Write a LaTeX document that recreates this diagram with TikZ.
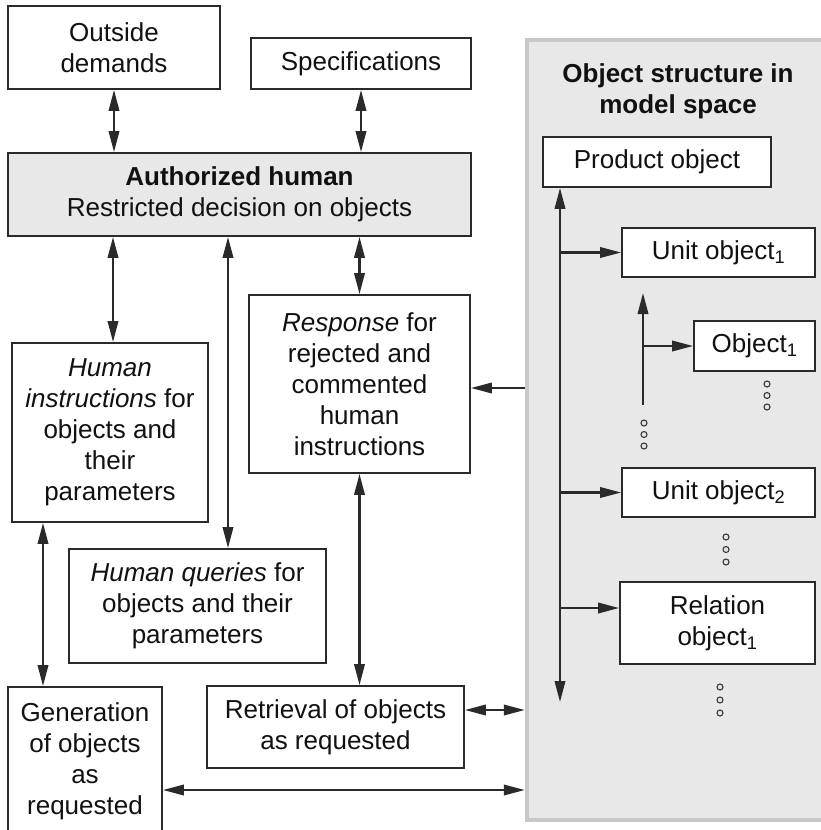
\documentclass[tikz,border=0pt]{standalone}
\usepackage{fontspec}
\setmainfont{Liberation Sans}
\usetikzlibrary{arrows.meta}
\definecolor{linec}{HTML}{2A2A2A}
\definecolor{panelfill}{HTML}{E8E8E8}
\definecolor{panelrim}{HTML}{C8C8C8}
\definecolor{txt}{HTML}{111111}
\begin{document}
\begin{tikzpicture}[x=1pt,y=-1pt,
  every node/.style={text=txt},
  txtfont/.style={font=\fontsize{26}{31}\selectfont},
  box/.style={draw=linec, line width=1.9pt, fill=white, align=center,
    inner sep=0pt, txtfont},
  graybox/.style={box, fill=panelfill},
  panelbox/.style={draw=panelrim, line width=4.5pt, fill=panelfill,
    inner sep=0pt},
  tip/.tip={Triangle[length=21pt,width=10.5pt]},
  arr/.style={draw=linec, line width=2.1pt, -tip},
  darr/.style={draw=linec, line width=2.1pt, tip-tip},
  dot/.style={circle, draw=gray!45!black, fill=gray!20, line width=1.1pt,
    inner sep=0pt, minimum size=6pt}
]
\useasboundingbox (0,0) rectangle (821,830);
\clip (0,0) rectangle (821,830);

% model space panel
\node[panelbox, minimum width=323pt, minimum height=780pt] (pnl) at (688.5,430) {};
\node[align=center, font=\bfseries\fontsize{26}{31}\selectfont] (title) at (678,91)
  {Object structure in\\model space};

% left-hand boxes
\node[box, minimum width=212pt, minimum height=83pt] (out) at (114,47.5) {Outside\\demands};
\node[box, minimum width=220pt, minimum height=51pt] (spec) at (361,63.5) {Specifications};
\node[graybox, minimum width=463pt, minimum height=83pt] (auth) at (239.5,194.5)
  {\textbf{Authorized human}\\Restricted decision on objects};
\node[box, minimum width=196pt, minimum height=179pt] (instr) at (110,432.5)
  {\textit{Human}\\\textit{instructions} for\\objects and\\their\\parameters};
\node[box, minimum width=221pt, minimum height=178pt] (resp) at (359.5,384)
  {\textit{Response} for\\rejected and\\commented\\human\\instructions};
\node[box, minimum width=257pt, minimum height=114pt] (query) at (197.5,606)
  {\textit{Human queries} for\\objects and their\\parameters};
\node[box, minimum width=154pt, minimum height=149pt] (gen) at (85,761.5)
  {Generation\\of objects\\as\\requested};
\node[box, minimum width=257pt, minimum height=82pt] (ret) at (335.5,727)
  {Retrieval of objects\\as requested};

% object boxes
\node[box, minimum width=228pt, minimum height=50pt] (prod) at (657,162) {Product object};
\node[box, minimum width=193pt, minimum height=49pt] (u1) at (718.5,252.5) {Unit object\textsubscript{1}};
\node[box, minimum width=121pt, minimum height=50pt] (o1) at (754.5,346) {Object\textsubscript{1}};
\node[box, minimum width=193pt, minimum height=49pt] (u2) at (718.5,492.5) {Unit object\textsubscript{2}};
\node[box, minimum width=195pt, minimum height=82pt] (rel) at (717.5,623) {Relation\\object\textsubscript{1}};

% helper coordinates
\coordinate (xi) at (113,0);
\coordinate (xq) at (228,0);
\coordinate (xg) at (43,0);
\coordinate (yr) at (0,388);
\coordinate (yt) at (0,710);
\coordinate (yb) at (0,790);
\coordinate (yrel) at (0,608);
\coordinate (bus) at (560,702);
\coordinate (sub) at (643,405);
\coordinate (subtop) at (643,293);

% connectors on the left
\draw[darr] (out.south) -- (out.south |- auth.north);
\draw[darr] (spec.south) -- (spec.south |- auth.north);
\draw[darr] (auth.south -| xi) -- (instr.north -| xi);
\draw[darr] (auth.south -| xq) -- (query.north -| xq);
\draw[darr] (auth.south -| resp.north) -- (resp.north);
\draw[darr] (instr.south -| xg) -- (gen.north -| xg);
\draw[darr] (resp.south) -- (resp.south |- ret.north);

% connectors to and from the model space
\draw[arr] (pnl.west |- yr) -- (resp.east |- yr);
\draw[darr] (ret.east |- yt) -- (pnl.west |- yt);
\draw[darr] (gen.east |- yb) -- (pnl.west |- yb);

% object tree
\draw[darr] (prod.south -| bus) -- (bus);
\draw[arr] (bus |- u1.west) -- (u1.west);
\draw[arr] (bus |- u2.west) -- (u2.west);
\draw[arr] (bus |- yrel) -- (rel.west |- yrel);
\draw[arr] (sub) -- (subtop);
\draw[arr] (sub |- o1.west) -- (o1.west);

% continuation dots
\foreach \y [count=\i] in {384,395.5,407} \node[dot] (da\i) at (767,\y) {};
\foreach \y [count=\i] in {423,434.5,446} \node[dot] (db\i) at (644,\y) {};
\foreach \y [count=\i] in {537,549.5,562} \node[dot] (dc\i) at (726,\y) {};
\foreach \y [count=\i] in {687,700,713} \node[dot] (dd\i) at (720,\y) {};
\end{tikzpicture}
\end{document}
